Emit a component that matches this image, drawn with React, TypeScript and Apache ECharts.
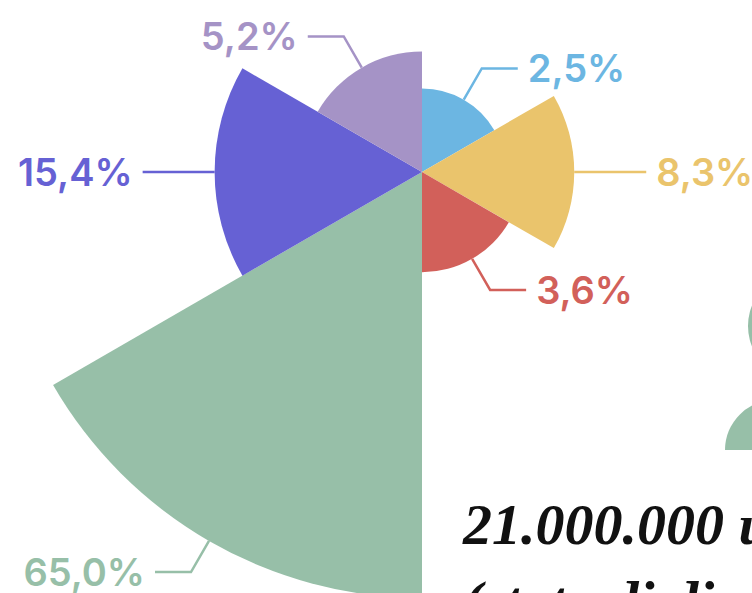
import React, { useEffect, useRef } from "react";
import * as echarts from "echarts";

// Categories (not shown in the picture) and their shares, clockwise from 12 o'clock
const categories = ["Gruppo 1", "Gruppo 2", "Gruppo 3", "Gruppo 4", "Gruppo 5", "Gruppo 6"];
const shares = [2.5, 8.3, 3.6, 65.0, 15.4, 5.2];
const sliceColors = ["#6cb6e2", "#eac46c", "#d2605a", "#97bfa8", "#6661d4", "#a593c6"];

const headline = "21.000.000 u";
const subline = "(stato di di";

const formatShare = (v: number) => v.toFixed(1).replace(".", ",") + "%";

export default function App() {
  const ref = useRef<HTMLDivElement>(null);

  useEffect(() => {
    if (!ref.current) return;
    const chart = echarts.init(ref.current, undefined, { renderer: "svg" });

    const outerR = 426;
    const lineLen = 36;
    // area-proportional rose: sector radius ~ sqrt(share)
    const roseValues = shares.map((v) => Math.sqrt(v));
    const maxRose = Math.max(...roseValues);

    const data = shares.map((v, i) => {
      const sliceR = (outerR * roseValues[i]) / maxRose;
      return {
        name: categories[i],
        value: roseValues[i],
        itemStyle: { color: sliceColors[i] },
        label: { color: sliceColors[i] },
        labelLine: {
          length: lineLen - (outerR - sliceR),
          lineStyle: { color: sliceColors[i], width: 2.5 },
        },
      };
    });

    chart.setOption({
      animation: false,
      backgroundColor: "#ffffff",
      series: [
        {
          type: "pie",
          roseType: "area",
          left: 0,
          top: 0,
          width: 1600,
          height: 1600,
          center: [422, 172],
          radius: [0, outerR],
          startAngle: 90,
          clockwise: true,
          avoidLabelOverlap: false,
          silent: true,
          label: {
            show: true,
            position: "outside",
            formatter: (p: any) => formatShare(shares[p.dataIndex]),
            fontFamily: "Inter",
            fontWeight: 600,
            fontSize: 38,
            distanceToLabelLine: 10,
          },
          labelLine: {
            show: true,
            length: lineLen,
            length2: 36,
            lineStyle: { width: 2.5 },
          },
          data,
        },
      ],
      graphic: {
        elements: [
          {
            type: "text",
            x: 463,
            y: 524,
            style: {
              text: headline,
              fontFamily: '"Liberation Serif"',
              fontStyle: "italic",
              fontWeight: "bold",
              fontSize: 58,
              fill: "#111111",
              verticalAlign: "middle",
            },
          },
          {
            type: "text",
            x: 463,
            y: 601,
            style: {
              text: subline,
              fontFamily: '"Liberation Serif"',
              fontStyle: "italic",
              fontWeight: "bold",
              fontSize: 58,
              fill: "#111111",
              verticalAlign: "middle",
            },
          },
          {
            type: "circle",
            shape: { cx: 803, cy: 326, r: 55 },
            style: { fill: "#97bfa8" },
          },
          {
            type: "sector",
            shape: { cx: 775, cy: 450, r0: 0, r: 50, startAngle: Math.PI, endAngle: Math.PI * 2, clockwise: true },
            style: { fill: "#97bfa8" },
          },
        ],
      },
    });

    return () => chart.dispose();
  }, []);

  return (
    <div
      ref={ref}
      style={{ position: "fixed", left: 0, top: 0, width: 752, height: 593 }}
    />
  );
}
